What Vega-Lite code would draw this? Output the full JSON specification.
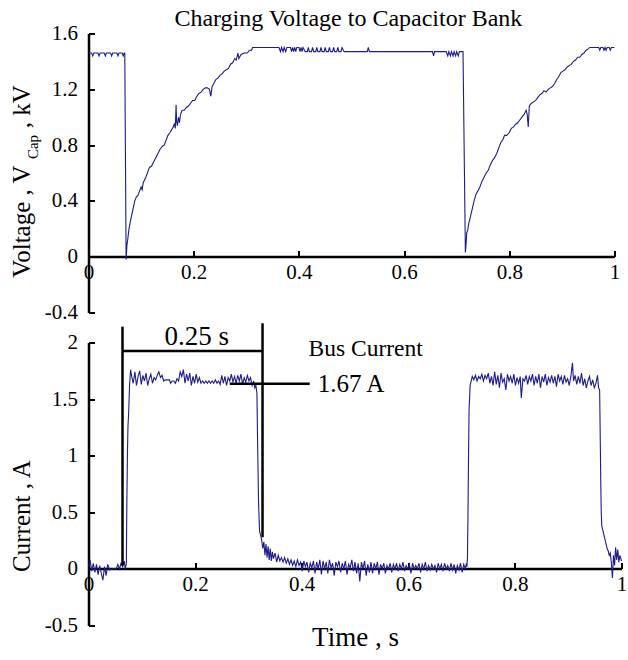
{
  "$schema": "https://vega.github.io/schema/vega-lite/v6.json",
  "background": "white",
  "padding": {"left": 9.5, "top": 6.5, "right": 0, "bottom": 0},
  "autosize": {"type": "pad"},
  "spacing": 30,
  "bounds": "flush",
  "config": {
    "view": {"stroke": null},
    "font": "Liberation Serif",
    "axis": {
      "grid": false,
      "domainColor": "black",
      "domainWidth": 2.5,
      "tickColor": "black",
      "tickWidth": 2,
      "tickSize": -6,
      "labelFont": "Liberation Serif",
      "labelFontSize": 21,
      "labelColor": "black",
      "labelFlush": false,
      "labelOverlap": false,
      "titleFont": "Liberation Serif",
      "titleFontWeight": "normal",
      "titleColor": "black",
      "titleFontSize": 25,
      "labelExpr": "toString(datum.value)"
    }
  },
  "datasets": {
    "volt": [
      {"t":0,"v":1.46},{"t":0.006,"v":1.46},{"t":0.008,"v":1.44},{"t":0.01,"v":1.46},{"t":0.018,"v":1.46},{"t":0.02,"v":1.44},{"t":0.022,"v":1.46},{"t":0.03,"v":1.46},{"t":0.032,"v":1.44},{"t":0.034,"v":1.46},{"t":0.042,"v":1.46},{"t":0.044,"v":1.44},{"t":0.046,"v":1.46},{"t":0.054,"v":1.46},{"t":0.056,"v":1.44},{"t":0.058,"v":1.46},{"t":0.064,"v":1.46},{"t":0.066,"v":1.44},{"t":0.068,"v":1.46},{"t":0.069,"v":1.46},
      {"t":0.0715,"v":-0.02},{"t":0.073,"v":0.08},{"t":0.0745,"v":0.12},{"t":0.0766,"v":0.19},{"t":0.08,"v":0.26},{"t":0.084,"v":0.33},{"t":0.088,"v":0.4},{"t":0.091,"v":0.43},{"t":0.094,"v":0.44},{"t":0.097,"v":0.47},{"t":0.1,"v":0.5},{"t":0.102,"v":0.48},{"t":0.104,"v":0.53},{"t":0.108,"v":0.56},{"t":0.112,"v":0.6},{"t":0.116,"v":0.64},{"t":0.12,"v":0.65},{"t":0.124,"v":0.68},{"t":0.128,"v":0.71},{"t":0.132,"v":0.74},{"t":0.136,"v":0.77},{"t":0.14,"v":0.79},{"t":0.144,"v":0.8},{"t":0.148,"v":0.84},{"t":0.151,"v":0.87},{"t":0.155,"v":0.89},{"t":0.158,"v":0.91},{"t":0.161,"v":0.93},{"t":0.163,"v":0.95},{"t":0.165,"v":0.92},{"t":0.1665,"v":1.09},{"t":0.1675,"v":0.97},{"t":0.169,"v":0.94},{"t":0.171,"v":1.0},{"t":0.173,"v":0.96},{"t":0.175,"v":1.02},{"t":0.178,"v":1.05},{"t":0.182,"v":1.05},{"t":0.186,"v":1.07},{"t":0.19,"v":1.08},{"t":0.194,"v":1.1},{"t":0.198,"v":1.12},{"t":0.202,"v":1.12},{"t":0.206,"v":1.15},{"t":0.21,"v":1.17},{"t":0.214,"v":1.18},{"t":0.218,"v":1.2},{"t":0.222,"v":1.21},{"t":0.226,"v":1.21},{"t":0.23,"v":1.2},{"t":0.2325,"v":1.15},{"t":0.235,"v":1.22},{"t":0.238,"v":1.24},{"t":0.242,"v":1.27},{"t":0.246,"v":1.28},{"t":0.25,"v":1.3},{"t":0.254,"v":1.31},{"t":0.258,"v":1.33},{"t":0.262,"v":1.34},{"t":0.266,"v":1.35},{"t":0.27,"v":1.38},{"t":0.274,"v":1.39},{"t":0.278,"v":1.42},{"t":0.281,"v":1.41},{"t":0.284,"v":1.46},{"t":0.286,"v":1.42},{"t":0.29,"v":1.45},{"t":0.296,"v":1.46},{"t":0.302,"v":1.46},{"t":0.306,"v":1.48},{"t":0.31,"v":1.48},{"t":0.312,"v":1.5},
      {"t":0.362,"v":1.5},{"t":0.365,"v":1.47},{"t":0.367,"v":1.5},{"t":0.37,"v":1.47},{"t":0.372,"v":1.5},{"t":0.375,"v":1.47},{"t":0.377,"v":1.5},{"t":0.384,"v":1.5},{"t":0.386,"v":1.47},{"t":0.388,"v":1.5},{"t":0.39,"v":1.47},{"t":0.392,"v":1.5},{"t":0.394,"v":1.47},{"t":0.396,"v":1.5},{"t":0.4,"v":1.5},{"t":0.402,"v":1.47},{"t":0.404,"v":1.5},{"t":0.406,"v":1.47},{"t":0.408,"v":1.5},{"t":0.412,"v":1.47},{"t":0.416,"v":1.47},{"t":0.418,"v":1.5},{"t":0.42,"v":1.47},{"t":0.424,"v":1.47},{"t":0.426,"v":1.5},{"t":0.428,"v":1.47},{"t":0.432,"v":1.47},{"t":0.434,"v":1.5},{"t":0.436,"v":1.47},{"t":0.44,"v":1.47},{"t":0.442,"v":1.5},{"t":0.444,"v":1.47},{"t":0.448,"v":1.47},{"t":0.45,"v":1.5},{"t":0.452,"v":1.47},{"t":0.456,"v":1.47},{"t":0.458,"v":1.5},{"t":0.46,"v":1.47},{"t":0.464,"v":1.47},{"t":0.466,"v":1.5},{"t":0.468,"v":1.47},{"t":0.472,"v":1.47},{"t":0.474,"v":1.5},{"t":0.476,"v":1.47},{"t":0.48,"v":1.47},{"t":0.482,"v":1.5},{"t":0.486,"v":1.47},
      {"t":0.53,"v":1.47},{"t":0.532,"v":1.5},{"t":0.534,"v":1.47},{"t":0.654,"v":1.47},{"t":0.656,"v":1.44},{"t":0.658,"v":1.47},{"t":0.68,"v":1.47},{"t":0.683,"v":1.44},{"t":0.685,"v":1.47},{"t":0.688,"v":1.44},{"t":0.69,"v":1.47},{"t":0.693,"v":1.44},{"t":0.695,"v":1.47},{"t":0.698,"v":1.44},{"t":0.7,"v":1.47},{"t":0.703,"v":1.44},{"t":0.705,"v":1.47},{"t":0.712,"v":1.47},
      {"t":0.7165,"v":0.03},{"t":0.718,"v":0.1},{"t":0.719,"v":0.17},{"t":0.721,"v":0.19},{"t":0.723,"v":0.24},{"t":0.725,"v":0.27},{"t":0.7275,"v":0.31},{"t":0.73,"v":0.35},{"t":0.733,"v":0.4},{"t":0.737,"v":0.45},{"t":0.74,"v":0.47},{"t":0.744,"v":0.5},{"t":0.748,"v":0.54},{"t":0.752,"v":0.57},{"t":0.756,"v":0.6},{"t":0.76,"v":0.62},{"t":0.764,"v":0.66},{"t":0.768,"v":0.69},{"t":0.772,"v":0.71},{"t":0.776,"v":0.74},{"t":0.78,"v":0.78},{"t":0.784,"v":0.82},{"t":0.788,"v":0.84},{"t":0.791,"v":0.87},{"t":0.795,"v":0.87},{"t":0.8,"v":0.89},{"t":0.804,"v":0.92},{"t":0.808,"v":0.93},{"t":0.812,"v":0.95},{"t":0.816,"v":0.96},{"t":0.82,"v":0.98},{"t":0.824,"v":1.0},{"t":0.828,"v":1.02},{"t":0.832,"v":1.05},{"t":0.834,"v":1.02},{"t":0.836,"v":0.93},{"t":0.838,"v":1.08},{"t":0.842,"v":1.1},{"t":0.846,"v":1.11},{"t":0.85,"v":1.12},{"t":0.854,"v":1.14},{"t":0.858,"v":1.16},{"t":0.862,"v":1.17},{"t":0.866,"v":1.19},{"t":0.87,"v":1.18},{"t":0.874,"v":1.2},{"t":0.878,"v":1.21},{"t":0.882,"v":1.22},{"t":0.886,"v":1.24},{"t":0.89,"v":1.27},{"t":0.894,"v":1.29},{"t":0.898,"v":1.32},{"t":0.902,"v":1.33},{"t":0.906,"v":1.34},{"t":0.91,"v":1.36},{"t":0.914,"v":1.37},{"t":0.918,"v":1.38},{"t":0.922,"v":1.4},{"t":0.926,"v":1.41},{"t":0.93,"v":1.43},{"t":0.934,"v":1.43},{"t":0.938,"v":1.45},{"t":0.942,"v":1.46},{"t":0.946,"v":1.48},{"t":0.95,"v":1.49},{"t":0.953,"v":1.5},{"t":0.97,"v":1.5},{"t":0.972,"v":1.48},{"t":0.974,"v":1.5},{"t":0.978,"v":1.5},{"t":0.98,"v":1.48},{"t":0.982,"v":1.5},{"t":0.984,"v":1.48},{"t":0.986,"v":1.5},{"t":0.99,"v":1.5},{"t":0.992,"v":1.48},{"t":0.994,"v":1.5},{"t":1.0,"v":1.5}
    ],
    "curr": [
      {"t":0,"i":0.02},{"t":0.003,"i":0.08},{"t":0.006,"i":-0.02},{"t":0.009,"i":0.05},{"t":0.012,"i":-0.03},{"t":0.015,"i":0.04},{"t":0.018,"i":-0.05},{"t":0.021,"i":0.03},{"t":0.024,"i":-0.04},{"t":0.027,"i":-0.1},{"t":0.03,"i":0.02},{"t":0.033,"i":-0.06},{"t":0.036,"i":0.04},{"t":0.04,"i":-0.01},{"t":0.044,"i":0.0},{"t":0.048,"i":0.0},{"t":0.052,"i":0.0},{"t":0.055,"i":0.04},{"t":0.058,"i":0.0},{"t":0.061,"i":0.05},{"t":0.064,"i":0.02},{"t":0.067,"i":0.07},{"t":0.069,"i":0.0},
      {"t":0.071,"i":0.05},{"t":0.072,"i":0.6},{"t":0.073,"i":1.0},{"t":0.074,"i":1.25},{"t":0.0755,"i":1.4},{"t":0.077,"i":1.62},{"t":0.079,"i":1.76},
      {"t":0.081,"i":1.7},{"t":0.084,"i":1.64},{"t":0.087,"i":1.74},{"t":0.09,"i":1.62},{"t":0.093,"i":1.7},{"t":0.096,"i":1.75},{"t":0.099,"i":1.63},{"t":0.102,"i":1.71},{"t":0.105,"i":1.66},{"t":0.108,"i":1.73},{"t":0.111,"i":1.62},{"t":0.114,"i":1.68},{"t":0.117,"i":1.72},{"t":0.12,"i":1.64},{"t":0.123,"i":1.69},{"t":0.126,"i":1.67},{"t":0.129,"i":1.71},{"t":0.132,"i":1.74},{"t":0.135,"i":1.69},{"t":0.138,"i":1.71},{"t":0.141,"i":1.66},{"t":0.144,"i":1.67},{"t":0.148,"i":1.67},{"t":0.152,"i":1.67},{"t":0.154,"i":1.64},{"t":0.157,"i":1.66},{"t":0.16,"i":1.66},{"t":0.163,"i":1.64},{"t":0.166,"i":1.68},{"t":0.169,"i":1.66},{"t":0.172,"i":1.74},{"t":0.175,"i":1.7},{"t":0.178,"i":1.76},{"t":0.181,"i":1.64},{"t":0.184,"i":1.72},{"t":0.187,"i":1.66},{"t":0.19,"i":1.73},{"t":0.193,"i":1.62},{"t":0.196,"i":1.7},{"t":0.199,"i":1.64},{"t":0.202,"i":1.72},{"t":0.205,"i":1.65},{"t":0.208,"i":1.69},{"t":0.211,"i":1.64},{"t":0.214,"i":1.66},{"t":0.217,"i":1.64},{"t":0.22,"i":1.66},{"t":0.223,"i":1.64},{"t":0.226,"i":1.66},{"t":0.229,"i":1.64},{"t":0.232,"i":1.66},{"t":0.235,"i":1.64},{"t":0.238,"i":1.67},{"t":0.241,"i":1.64},{"t":0.244,"i":1.66},{"t":0.247,"i":1.63},{"t":0.25,"i":1.71},{"t":0.253,"i":1.64},{"t":0.256,"i":1.7},{"t":0.259,"i":1.62},{"t":0.262,"i":1.69},{"t":0.265,"i":1.66},{"t":0.268,"i":1.72},{"t":0.271,"i":1.65},{"t":0.274,"i":1.7},{"t":0.277,"i":1.64},{"t":0.28,"i":1.71},{"t":0.283,"i":1.66},{"t":0.286,"i":1.72},{"t":0.289,"i":1.63},{"t":0.292,"i":1.69},{"t":0.295,"i":1.65},{"t":0.298,"i":1.71},{"t":0.301,"i":1.66},{"t":0.304,"i":1.69},{"t":0.307,"i":1.62},{"t":0.31,"i":1.66},{"t":0.312,"i":1.6},{"t":0.314,"i":1.62},
      {"t":0.316,"i":1.55},{"t":0.317,"i":1.2},{"t":0.318,"i":0.9},{"t":0.319,"i":0.6},{"t":0.32,"i":0.45},{"t":0.321,"i":0.33},{"t":0.323,"i":0.3},{"t":0.325,"i":0.25},{"t":0.327,"i":0.18},{"t":0.329,"i":0.24},{"t":0.331,"i":0.12},{"t":0.333,"i":0.22},{"t":0.335,"i":0.1},{"t":0.337,"i":0.2},{"t":0.339,"i":0.08},{"t":0.341,"i":0.18},{"t":0.343,"i":0.07},{"t":0.345,"i":0.15},{"t":0.347,"i":0.09},{"t":0.35,"i":0.14},{"t":0.353,"i":0.06},{"t":0.356,"i":0.12},{"t":0.359,"i":0.07},{"t":0.362,"i":0.1},{"t":0.365,"i":0.06},{"t":0.368,"i":0.1},{"t":0.371,"i":0.05},{"t":0.374,"i":0.09},{"t":0.377,"i":0.04},{"t":0.38,"i":0.08},{"t":0.383,"i":0.03},{"t":0.386,"i":0.07},{"t":0.389,"i":0.02},{"t":0.392,"i":0.08},{"t":0.395,"i":0.03},{"t":0.398,"i":0.06},{"t":0.401,"i":-0.02},{"t":0.404,"i":0.07},{"t":0.407,"i":0.02},{"t":0.41,"i":0.06},{"t":0.413,"i":-0.03},{"t":0.416,"i":0.05},{"t":0.419,"i":0.01},{"t":0.422,"i":0.07},{"t":0.425,"i":-0.04},{"t":0.428,"i":0.06},{"t":0.431,"i":0.0},{"t":0.434,"i":0.08},{"t":0.437,"i":-0.05},{"t":0.44,"i":0.07},{"t":0.443,"i":0.0},{"t":0.446,"i":0.06},{"t":0.449,"i":-0.04},{"t":0.452,"i":0.08},{"t":0.455,"i":0.01},{"t":0.458,"i":0.05},{"t":0.461,"i":-0.06},{"t":0.464,"i":0.06},{"t":0.467,"i":0.02},{"t":0.47,"i":0.07},{"t":0.473,"i":-0.03},{"t":0.476,"i":0.05},{"t":0.479,"i":0.0},{"t":0.482,"i":0.07},{"t":0.485,"i":-0.05},{"t":0.488,"i":0.04},{"t":0.491,"i":0.01},{"t":0.494,"i":0.08},{"t":0.497,"i":-0.02},{"t":0.5,"i":0.06},{"t":0.503,"i":-0.04},{"t":0.506,"i":0.05},{"t":0.509,"i":-0.11},{"t":0.512,"i":0.06},{"t":0.515,"i":0.0},{"t":0.518,"i":0.07},{"t":0.521,"i":-0.06},{"t":0.524,"i":0.04},{"t":0.527,"i":-0.03},{"t":0.53,"i":0.06},{"t":0.533,"i":-0.04},{"t":0.536,"i":0.05},{"t":0.539,"i":0.0},{"t":0.542,"i":0.06},{"t":0.545,"i":-0.05},{"t":0.548,"i":0.04},{"t":0.551,"i":0.0},{"t":0.554,"i":0.05},{"t":0.557,"i":-0.04},{"t":0.56,"i":0.03},{"t":0.563,"i":0.0},{"t":0.566,"i":0.05},{"t":0.569,"i":-0.03},{"t":0.572,"i":0.04},{"t":0.575,"i":0.0},{"t":0.578,"i":0.05},{"t":0.581,"i":-0.02},{"t":0.584,"i":0.04},{"t":0.587,"i":0.0},{"t":0.59,"i":0.06},{"t":0.593,"i":-0.02},{"t":0.596,"i":0.03},{"t":0.599,"i":0.0},{"t":0.602,"i":0.04},{"t":0.605,"i":-0.04},{"t":0.608,"i":0.05},{"t":0.611,"i":0.0},{"t":0.614,"i":0.03},{"t":0.617,"i":0.0},{"t":0.62,"i":0.05},{"t":0.623,"i":-0.03},{"t":0.626,"i":0.04},{"t":0.629,"i":0.0},{"t":0.632,"i":0.06},{"t":0.635,"i":-0.02},{"t":0.638,"i":0.03},{"t":0.641,"i":-0.01},{"t":0.644,"i":0.04},{"t":0.647,"i":0.0},{"t":0.65,"i":0.03},{"t":0.653,"i":-0.03},{"t":0.656,"i":0.05},{"t":0.659,"i":0.0},{"t":0.662,"i":0.04},{"t":0.665,"i":-0.02},{"t":0.668,"i":0.05},{"t":0.671,"i":0.0},{"t":0.674,"i":0.03},{"t":0.677,"i":-0.02},{"t":0.68,"i":0.05},{"t":0.683,"i":-0.01},{"t":0.686,"i":0.04},{"t":0.689,"i":-0.04},{"t":0.692,"i":0.03},{"t":0.695,"i":-0.01},{"t":0.698,"i":0.05},{"t":0.701,"i":-0.03},{"t":0.704,"i":0.04},{"t":0.707,"i":0.0},{"t":0.709,"i":0.05},{"t":0.71,"i":0.02},
      {"t":0.711,"i":0.1},{"t":0.712,"i":0.5},{"t":0.713,"i":1.0},{"t":0.714,"i":1.4},{"t":0.716,"i":1.62},{"t":0.718,"i":1.66},
      {"t":0.72,"i":1.7},{"t":0.723,"i":1.67},{"t":0.726,"i":1.71},{"t":0.729,"i":1.66},{"t":0.732,"i":1.7},{"t":0.735,"i":1.68},{"t":0.738,"i":1.72},{"t":0.741,"i":1.66},{"t":0.744,"i":1.71},{"t":0.747,"i":1.68},{"t":0.75,"i":1.73},{"t":0.753,"i":1.64},{"t":0.756,"i":1.7},{"t":0.759,"i":1.62},{"t":0.762,"i":1.74},{"t":0.765,"i":1.63},{"t":0.768,"i":1.71},{"t":0.771,"i":1.6},{"t":0.774,"i":1.73},{"t":0.777,"i":1.65},{"t":0.78,"i":1.68},{"t":0.783,"i":1.58},{"t":0.786,"i":1.72},{"t":0.789,"i":1.66},{"t":0.792,"i":1.7},{"t":0.795,"i":1.64},{"t":0.798,"i":1.72},{"t":0.801,"i":1.62},{"t":0.804,"i":1.69},{"t":0.807,"i":1.64},{"t":0.81,"i":1.7},{"t":0.812,"i":1.51},{"t":0.815,"i":1.68},{"t":0.818,"i":1.66},{"t":0.821,"i":1.71},{"t":0.824,"i":1.63},{"t":0.827,"i":1.7},{"t":0.83,"i":1.66},{"t":0.833,"i":1.72},{"t":0.836,"i":1.62},{"t":0.839,"i":1.7},{"t":0.842,"i":1.64},{"t":0.845,"i":1.72},{"t":0.848,"i":1.6},{"t":0.851,"i":1.7},{"t":0.854,"i":1.65},{"t":0.857,"i":1.72},{"t":0.86,"i":1.62},{"t":0.863,"i":1.69},{"t":0.866,"i":1.65},{"t":0.869,"i":1.71},{"t":0.872,"i":1.64},{"t":0.875,"i":1.7},{"t":0.878,"i":1.61},{"t":0.881,"i":1.72},{"t":0.884,"i":1.66},{"t":0.887,"i":1.7},{"t":0.89,"i":1.63},{"t":0.893,"i":1.71},{"t":0.896,"i":1.65},{"t":0.899,"i":1.68},{"t":0.902,"i":1.62},{"t":0.905,"i":1.7},{"t":0.908,"i":1.82},{"t":0.91,"i":1.66},{"t":0.913,"i":1.71},{"t":0.916,"i":1.63},{"t":0.919,"i":1.7},{"t":0.922,"i":1.64},{"t":0.925,"i":1.73},{"t":0.928,"i":1.62},{"t":0.931,"i":1.68},{"t":0.934,"i":1.6},{"t":0.937,"i":1.66},{"t":0.94,"i":1.7},{"t":0.943,"i":1.62},{"t":0.946,"i":1.67},{"t":0.949,"i":1.6},{"t":0.952,"i":1.64},{"t":0.955,"i":1.71},{"t":0.957,"i":1.6},{"t":0.959,"i":1.58},
      {"t":0.96,"i":1.2},{"t":0.961,"i":0.8},{"t":0.962,"i":0.5},{"t":0.963,"i":0.38},{"t":0.965,"i":0.34},{"t":0.967,"i":0.3},{"t":0.969,"i":0.26},{"t":0.971,"i":0.22},{"t":0.973,"i":0.18},{"t":0.975,"i":0.16},{"t":0.977,"i":0.12},{"t":0.979,"i":0.14},{"t":0.981,"i":0.05},{"t":0.983,"i":-0.08},{"t":0.985,"i":0.12},{"t":0.987,"i":0.03},{"t":0.989,"i":0.19},{"t":0.991,"i":0.08},{"t":0.993,"i":0.17},{"t":0.995,"i":0.06},{"t":0.997,"i":0.12},{"t":1.0,"i":0.07}
    ]
  },
  "vconcat": [
    {
      "width": 526,
      "height": 279,
      "layer": [
        {
          "data": {"name": "volt"},
          "mark": {"type": "line", "color": "#1c1c8c", "strokeWidth": 1.1},
          "encoding": {
            "x": {"field": "t", "type": "quantitative", "scale": {"domain": [0, 1], "nice": false},
                  "axis": {"values": [0, 0.2, 0.4, 0.6, 0.8, 1], "offset": -56, "title": null, "labelPadding": 11}},
            "y": {"field": "v", "type": "quantitative", "scale": {"domain": [-0.4, 1.6], "nice": false, "zero": false},
                  "axis": {"values": [-0.4, 0, 0.4, 0.8, 1.2, 1.6], "title": null, "labelPadding": 17}}
          }
        },
        {
          "data": {"values": [
            {"t": 0.494, "v": 1.705, "label": "Charging Voltage to Capacitor Bank"}
          ]},
          "mark": {"type": "text", "color": "black", "font": "Liberation Serif", "baseline": "middle", "align": "center", "fontSize": 24},
          "encoding": {
            "x": {"field": "t", "type": "quantitative"},
            "y": {"field": "v", "type": "quantitative"},
            "text": {"field": "label"}
          }
        },
        {
          "data": {"values": [
            {"t": -0.127, "v": -0.15, "label": "Voltage , V", "size": 25},
            {"t": -0.106, "v": 0.70, "label": "Cap", "size": 15},
            {"t": -0.127, "v": 0.92, "label": ", kV", "size": 25}
          ]},
          "mark": {"type": "text", "color": "black", "font": "Liberation Serif", "baseline": "middle", "align": "left", "angle": 270},
          "encoding": {
            "x": {"field": "t", "type": "quantitative"},
            "y": {"field": "v", "type": "quantitative"},
            "text": {"field": "label"},
            "size": {"field": "size", "type": "quantitative", "scale": null}
          }
        }
      ]
    },
    {
      "width": 533,
      "height": 283,
      "layer": [
        {
          "data": {"name": "curr"},
          "mark": {"type": "line", "color": "#1c1c8c", "strokeWidth": 1.1},
          "encoding": {
            "x": {"field": "t", "type": "quantitative", "scale": {"domain": [0, 1], "nice": false},
                  "axis": {"values": [0, 0.2, 0.4, 0.6, 0.8, 1], "offset": -57, "title": "Time , s", "labelPadding": 11,
                           "titleFontSize": 27, "titleBaseline": "middle", "titleY": 69}},
            "y": {"field": "i", "type": "quantitative", "scale": {"domain": [-0.5, 2], "nice": false, "zero": false},
                  "axis": {"values": [-0.5, 0, 0.5, 1, 1.5, 2], "title": "Current , A", "labelPadding": 17,
                           "titleX": -67, "titleY": 173, "titleAngle": 270, "titleAlign": "center", "titleBaseline": "middle"}}
          }
        },
        {
          "data": {"values": [
            {"t": 0.0638, "y1": 0.03, "y2": 2.14},
            {"t": 0.3265, "y1": 0.28, "y2": 2.17}
          ]},
          "mark": {"type": "rule", "color": "black", "strokeWidth": 2.5},
          "encoding": {
            "x": {"field": "t", "type": "quantitative"},
            "y": {"field": "y1", "type": "quantitative"},
            "y2": {"field": "y2"}
          }
        },
        {
          "data": {"values": [
            {"t1": 0.064, "t2": 0.3265, "y": 1.925},
            {"t1": 0.265, "t2": 0.415, "y": 1.635}
          ]},
          "mark": {"type": "rule", "color": "black", "strokeWidth": 2.5},
          "encoding": {
            "x": {"field": "t1", "type": "quantitative"},
            "x2": {"field": "t2"},
            "y": {"field": "y", "type": "quantitative"}
          }
        },
        {
          "data": {"values": [
            {"t": 0.203, "y": 2.05, "label": "0.25 s", "size": 27},
            {"t": 0.52, "y": 1.94, "label": "Bus Current", "size": 23.5}
          ]},
          "mark": {"type": "text", "color": "black", "font": "Liberation Serif", "baseline": "middle", "align": "center"},
          "encoding": {
            "x": {"field": "t", "type": "quantitative"},
            "y": {"field": "y", "type": "quantitative"},
            "text": {"field": "label"},
            "size": {"field": "size", "type": "quantitative", "scale": null}
          }
        },
        {
          "data": {"values": [
            {"t": 0.43, "y": 1.635, "label": "1.67 A"}
          ]},
          "mark": {"type": "text", "color": "black", "font": "Liberation Serif", "baseline": "middle", "align": "left", "fontSize": 25},
          "encoding": {
            "x": {"field": "t", "type": "quantitative"},
            "y": {"field": "y", "type": "quantitative"},
            "text": {"field": "label"}
          }
        }
      ]
    }
  ]
}
